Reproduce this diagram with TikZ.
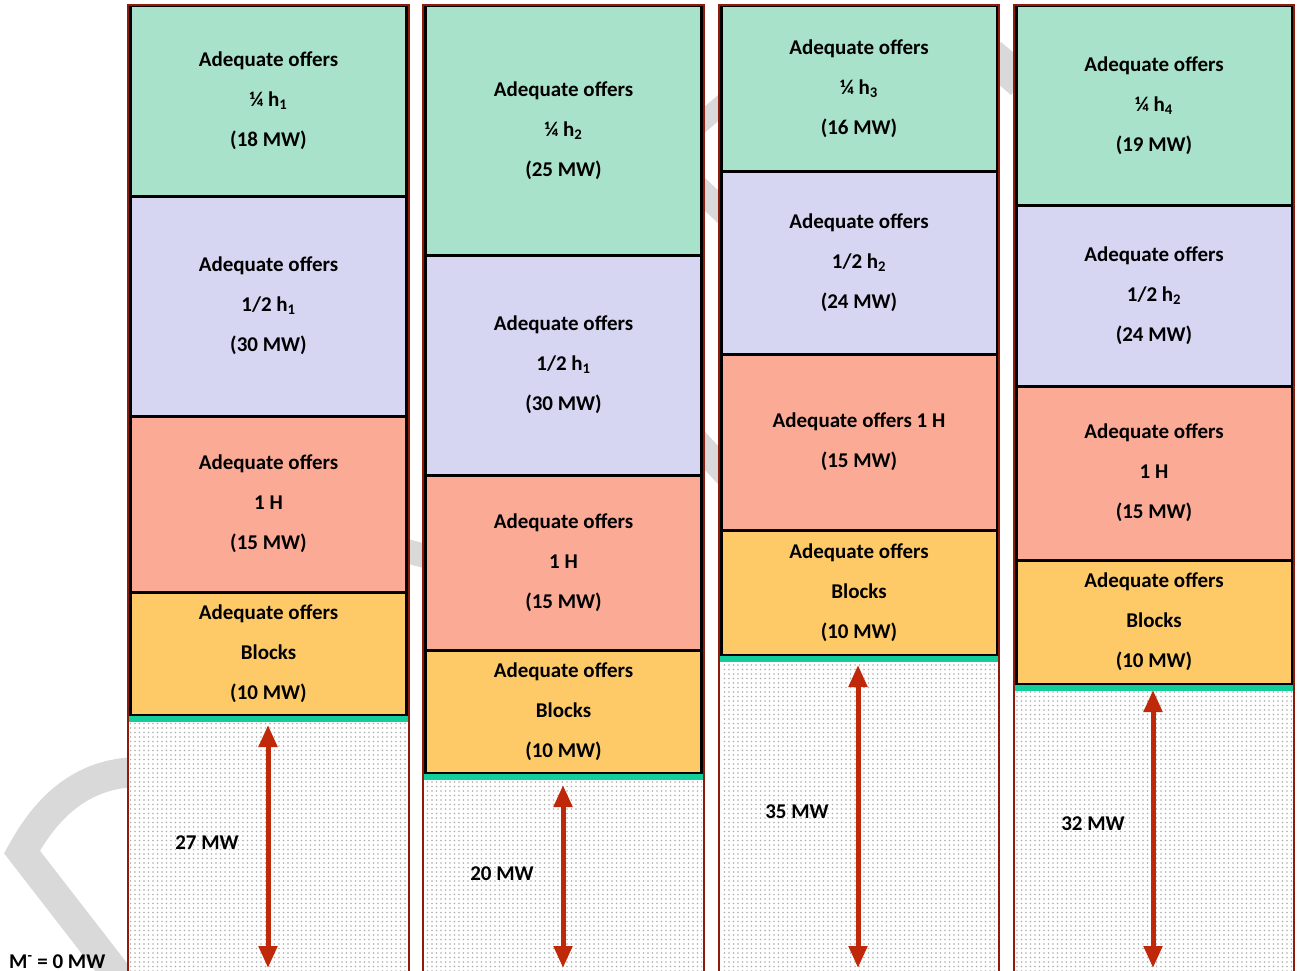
\documentclass[tikz,border=0pt]{standalone}
\usepackage{fontspec}
\setmainfont{Carlito}
\usetikzlibrary{arrows.meta,patterns.meta}
\definecolor{cgreen}{HTML}{A9E2CB}
\definecolor{clav}{HTML}{D6D6F3}
\definecolor{csal}{HTML}{FBAA95}
\definecolor{cyel}{HTML}{FDCA67}
\definecolor{cteal}{HTML}{12CE9B}
\definecolor{cborder}{HTML}{8E1B0B}
\definecolor{carrow}{HTML}{C0280A}
\definecolor{cwm}{HTML}{D9D9D9}
\newcommand\offerbox[6]{%
  \node[offer, fill=#5, minimum height={(#4)-(#3)}] (#1) at (#2,{((#3)+(#4))/2}) {#6};}
\newcommand\colframe[3]{% xl, xr, dotsfrom
  \fill[white] (#1,4) rectangle (#2,975);
  \fill[pattern={Dots[distance=4.5pt,radius=0.9pt]}, pattern color=black!32] ({#1+2},#3) rectangle ({#2-2},975);}
\newcommand\colborder[2]{%
  \draw[cborder, line width=2.2pt] (#1,975) -- (#1,5) -- (#2,5) -- (#2,975);}
\begin{document}
\begin{tikzpicture}[x=1pt,y=-1pt,
  offer/.style={draw=black, line width=3pt, minimum width=276pt, inner sep=0pt,
    align=center, font=\bfseries\fontsize{21}{40}\selectfont},
  teal/.style={cteal, line width=6pt},
  sizearrow/.style={carrow, line width=5pt, {Triangle[width=18pt,length=22pt]}-{Triangle[width=18pt,length=22pt]}},
  mwlabel/.style={font=\bfseries\fontsize{21}{25}\selectfont, inner sep=0pt},
  wm/.style={cwm, line width=30pt}]
\useasboundingbox (0,0) rectangle (1299,971);
% watermark (visible only outside columns)
\draw[wm, line join=miter] (140,772) .. controls (80,772) and (45,810) .. (22,852) -- (125,985);
\draw[cwm, line width=24pt] (395,548) -- (440,560);
\draw[cwm, line width=20pt] (695,128) -- (730,98);
\draw[cwm, line width=24pt] (695,185) -- (730,218);
\draw[cwm, line width=26pt] (695,440) -- (730,478);
\draw[cwm, line width=34pt] (990,55) -- (1022,82);
% column backgrounds
\colframe{128}{409}{721}
\colframe{423}{704}{779}
\colframe{719}{999}{661}
\colframe{1014}{1294}{690}
% column 1
\offerbox{c1a}{268.5}{6}{196}{cgreen}{Adequate offers\\¼ h\textsubscript{1}\\(18 MW)}
\offerbox{c1b}{268.5}{196}{416}{clav}{Adequate offers\\1/2 h\textsubscript{1}\\(30 MW)}
\offerbox{c1c}{268.5}{416}{592}{csal}{Adequate offers\\1 H\\(15 MW)}
\offerbox{c1d}{268.5}{592}{715}{cyel}{Adequate offers\\Blocks\\(10 MW)}
% column 2
\offerbox{c2a}{563.5}{6}{255}{cgreen}{Adequate offers\\¼ h\textsubscript{2}\\(25 MW)}
\offerbox{c2b}{563.5}{255}{475}{clav}{Adequate offers\\1/2 h\textsubscript{1}\\(30 MW)}
\offerbox{c2c}{563.5}{475}{650}{csal}{Adequate offers\\1 H\\(15 MW)}
\offerbox{c2d}{563.5}{650}{773}{cyel}{Adequate offers\\Blocks\\(10 MW)}
% column 3
\offerbox{c3a}{859}{6}{172}{cgreen}{Adequate offers\\¼ h\textsubscript{3}\\(16 MW)}
\offerbox{c3b}{859}{172}{354}{clav}{Adequate offers\\1/2 h\textsubscript{2}\\(24 MW)}
\offerbox{c3c}{859}{354}{530}{csal}{Adequate offers 1 H\\(15 MW)}
\offerbox{c3d}{859}{530}{655}{cyel}{Adequate offers\\Blocks\\(10 MW)}
% column 4
\offerbox{c4a}{1154}{6}{205}{cgreen}{Adequate offers\\¼ h\textsubscript{4}\\(19 MW)}
\offerbox{c4b}{1154}{205}{386}{clav}{Adequate offers\\1/2 h\textsubscript{2}\\(24 MW)}
\offerbox{c4c}{1154}{386}{560}{csal}{Adequate offers\\1 H\\(15 MW)}
\offerbox{c4d}{1154}{560}{684}{cyel}{Adequate offers\\Blocks\\(10 MW)}
% teal lines
\draw[teal] (128,718.5) -- (409,718.5);
\draw[teal] (423,776.5) -- (704,776.5);
\draw[teal] (719,658.5) -- (999,658.5);
\draw[teal] (1014,687.5) -- (1294,687.5);
% column borders
\colborder{128}{409}
\colborder{423}{704}
\colborder{719}{999}
\colborder{1014}{1294}
% arrows
\coordinate (a1t) at (268,725); \coordinate (a1b) at (268,968);
\coordinate (a2t) at (563,785); \coordinate (a2b) at (563,968);
\coordinate (a3t) at (858,665); \coordinate (a3b) at (858,968);
\coordinate (a4t) at (1153,690); \coordinate (a4b) at (1153,968);
\draw[sizearrow] (a1t) -- (a1b);
\draw[sizearrow] (a2t) -- (a2b);
\draw[sizearrow] (a3t) -- (a3b);
\draw[sizearrow] (a4t) -- (a4b);
% labels
\node[mwlabel] (l1) at (207,843) {27 MW};
\node[mwlabel] (l2) at (502,874) {20 MW};
\node[mwlabel] (l3) at (797,812) {35 MW};
\node[mwlabel] (l4) at (1093,824) {32 MW};
\node[mwlabel, anchor=base west] (mminus) at (9,968) {M\textsuperscript{-} = 0 MW};
\end{tikzpicture}
\end{document}
